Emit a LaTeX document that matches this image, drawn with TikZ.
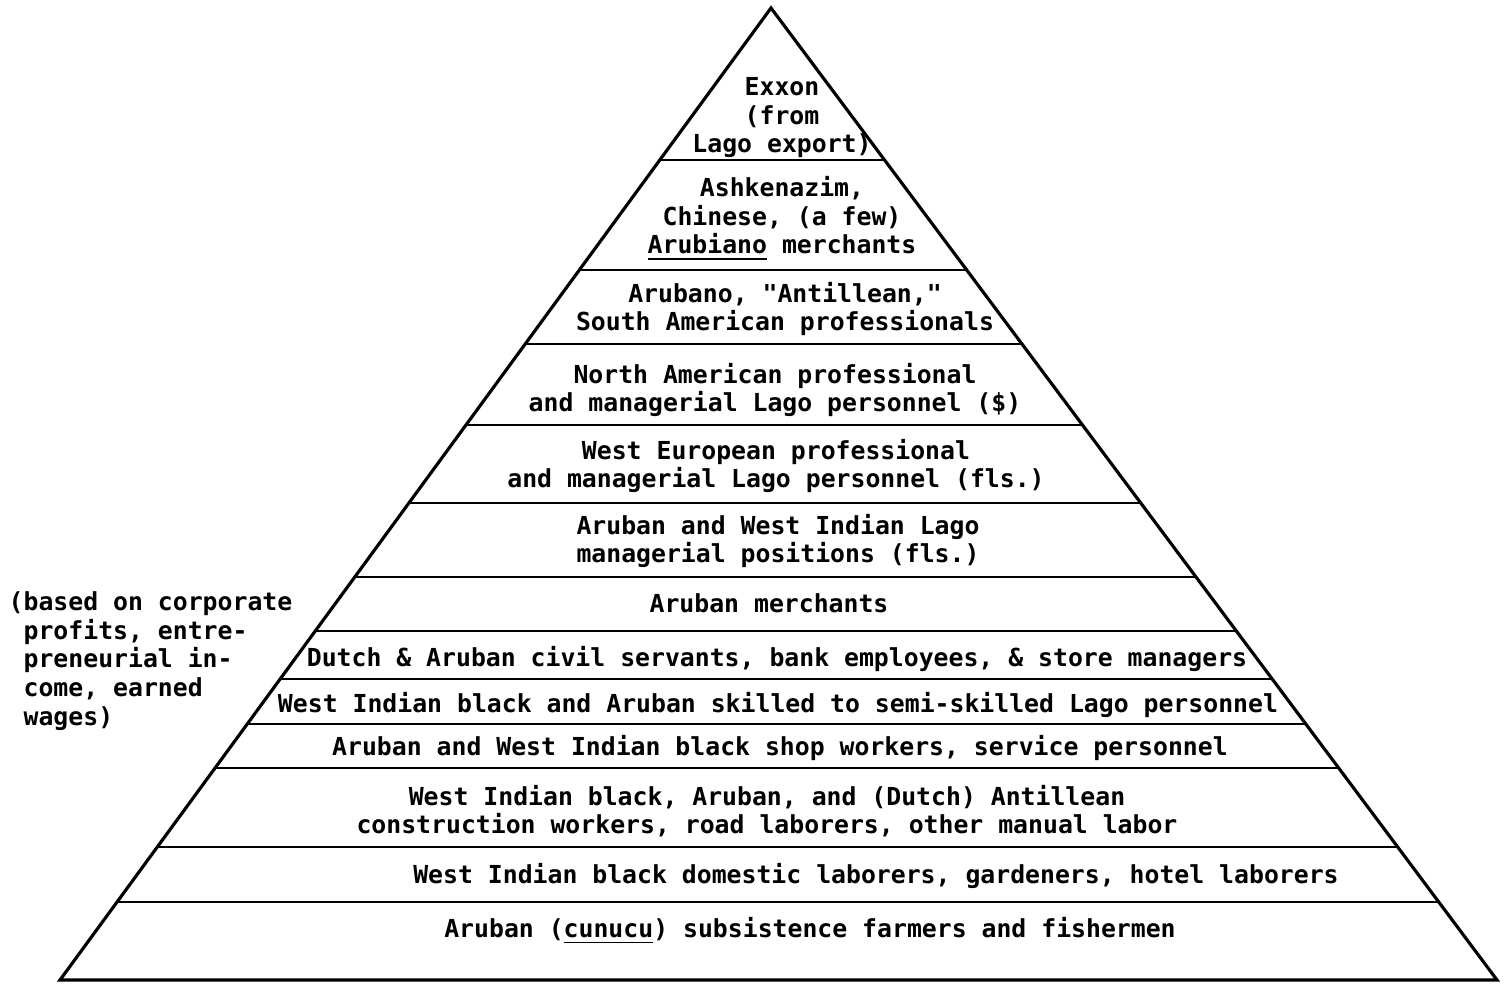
\documentclass[tikz,border=0pt]{standalone}
\usepackage{fontspec}
\setmonofont{DejaVu Sans Mono}
\usepackage{tikz}
\usetikzlibrary{calc}
\tikzset{
	layer/.style={font=\ttfamily\bfseries\fontsize{7.05}{8.1}\selectfont, align=center, inner sep=0pt},
	note/.style={font=\ttfamily\bfseries\fontsize{7.05}{8.2}\selectfont, align=left, inner sep=0pt, anchor=west},
	edge/.style={line width=0.9pt, line join=miter},
	cut/.style={line width=0.8pt}
}

\begin{document}
\begin{tikzpicture}[x=0.01cm, y=0.01cm]
		%%%%% START %%%%%
		\useasboundingbox (0, 0) rectangle (1506, 985);
		
		\coordinate (top) at (771, 977);
		\coordinate (bl) at (60, 5);
		\coordinate (br) at (1497, 5);
		
		\draw[edge] (bl) -- (top) -- (br) -- cycle;
		
		\foreach \y in {825, 715, 641, 560, 482, 408, 354, 306, 261, 217, 138, 83} {
			\pgfmathsetmacro\t{(977-\y)/972}
			\draw[cut] ($(top)!\t!(bl)$) -- ($(top)!\t!(br)$);
		}
		
		\node[layer] (exxon) at (782, 867) {Exxon\\(from\\Lago export)};
		\node[layer] (ashkenazim) at (782, 766) {Ashkenazim,\\Chinese, (a few)\\\underline{Arubiano} merchants};
		\node[layer] (arubano) at (785, 676) {Arubano, "Antillean,"\\South American professionals};
		\node[layer] (northam) at (775, 595) {North American professional\\and managerial Lago personnel (\$)};
		\node[layer] (westeur) at (776, 519) {West European professional\\and managerial Lago personnel (fls.)};
		\node[layer] (lagomgr) at (778, 444) {Aruban and West Indian Lago\\managerial positions (fls.)};
		\node[layer] (merchants) at (769, 382) {Aruban merchants};
		\node[layer] (civil) at (777, 326) {Dutch \& Aruban civil servants, bank employees, \& store managers};
		\node[layer] (skilled) at (778, 280) {West Indian black and Aruban skilled to semi-skilled Lago personnel};
		\node[layer] (shop) at (780, 237) {Aruban and West Indian black shop workers, service personnel};
		\node[layer] (manual) at (767, 174) {West Indian black, Aruban, and (Dutch) Antillean\\construction workers, road laborers, other manual labor};
		\node[layer] (domestic) at (876, 109) {West Indian black domestic laborers, gardeners, hotel laborers};
		\node[layer] (cunucu) at (810, 54) {Aruban (\underline{cunucu}) subsistence farmers and fishermen};
		
		% side remark
		\node[note] (basis) at (8, 324) {(based on corporate\\\phantom{(}profits, entre-\\\phantom{(}preneurial in-\\\phantom{(}come, earned\\\phantom{(}wages)};
		
		%%%%% END %%%%%
	\end{tikzpicture}
\end{document}
